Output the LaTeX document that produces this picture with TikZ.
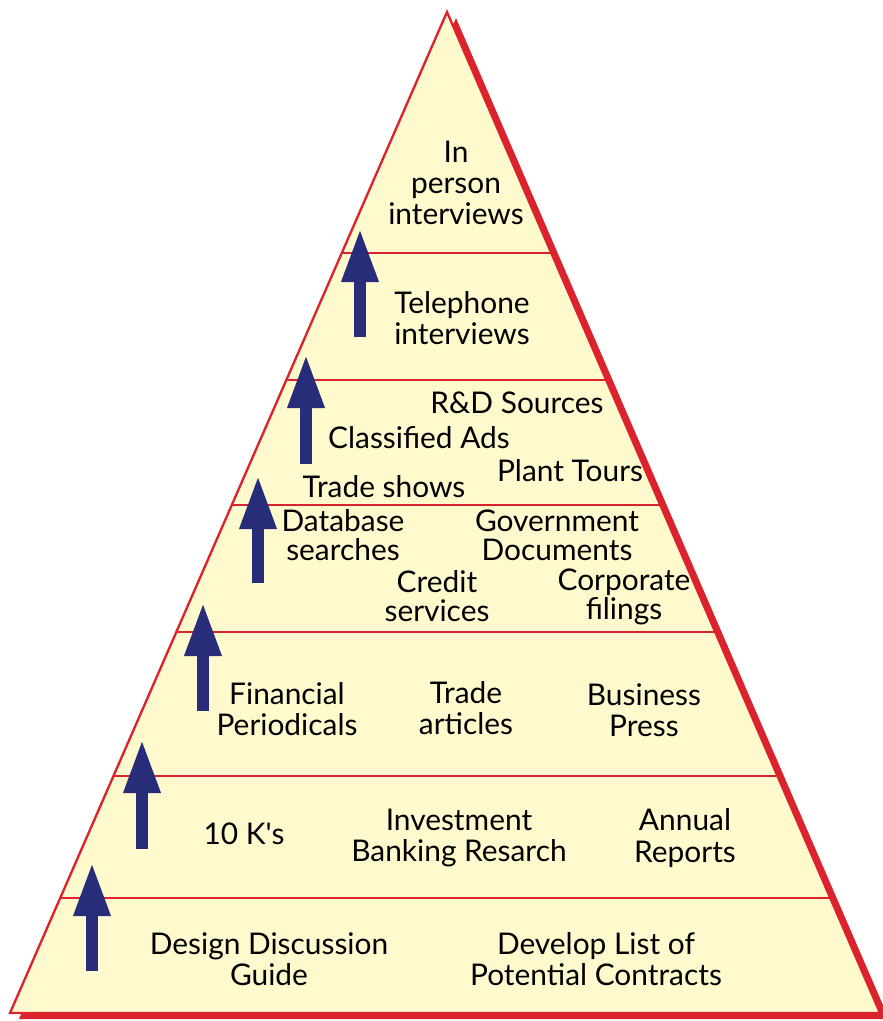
\documentclass[tikz,border=0pt]{standalone}
\usepackage{fontspec}
\setmainfont{Lato}[Ligatures=TeXOff]
\usetikzlibrary{arrows.meta}

\definecolor{pyrred}{RGB}{218,35,45}
\definecolor{pyrfill}{RGB}{255,250,206}
\definecolor{arrblue}{RGB}{40,45,122}

\tikzset{
  lbl/.style={align=center, font=\fontsize{25.5}{26.8}\selectfont, inner sep=0pt},
  tight/.style={font=\fontsize{25.5}{25}\selectfont},
  bandline/.style={pyrred, line width=0.6mm},
  uparrow/.style={arrblue, line width=3.6mm, -{Triangle[width=10.2mm, length=16.2mm]}}
}

\begin{document}
\begin{tikzpicture}[x=0.3mm, y=-0.3mm]
	\useasboundingbox (0,0) rectangle (883,1021) ;
	% corners of the pyramid
	\coordinate (top) at (447,12) ;
	\coordinate (bl) at (10,1013) ;
	\coordinate (br) at (880,1013) ;
	% red shadow, then the pyramid itself
	\fill[pyrred] ([shift={(9,6)}]top) -- ([shift={(9,6)}]bl) -- ([shift={(9,6)}]br) -- cycle ;
	\fill[pyrfill] (top) -- (bl) -- (br) -- cycle ;
	\begin{scope}
		\clip (top) -- (bl) -- (br) -- cycle ;
		\foreach \y in {253,380,505,632,776,898}
			\draw[bandline] (0,\y) -- (883,\y) ;
	\end{scope}
	\draw[pyrred, line width=0.7mm, line join=miter] (top) -- (bl) -- (br) -- cycle ;

	% arrows, bottom to top
	\foreach \n/\x/\yb/\yt in {1/92/971/862, 2/142/849/739, 3/203/711/602, 4/258/583/475, 5/306/464/354, 6/360/337/228} {
		\coordinate (a\n b) at (\x,\yb) ;
		\coordinate (a\n t) at (\x,\yt) ;
		\draw[uparrow] (a\n b) -- (a\n t) ;
	}

	% level 7
	\node[lbl] (l7) at (456,183) {In\\person\\interviews} ;
	% level 6
	\node[lbl] (l6) at (462,318) {Telephone\\interviews} ;
	% level 5
	\node[lbl] (rd) at (517,403) {R\&D Sources} ;
	\node[lbl] (ca) at (419,438) {Classified Ads} ;
	\node[lbl] (pt) at (570,471) {Plant Tours} ;
	\node[lbl] (ts) at (384,487) {Trade shows} ;
	% level 4
	\node[lbl,tight] (db) at (343,535) {Database\\searches} ;
	\node[lbl,tight] (gd) at (557,535) {Government\\Documents} ;
	\node[lbl,tight] (cs) at (437,596) {Credit\\services} ;
	\node[lbl,tight] (cf) at (624,597) {Corporate\\filings} ;
	% level 3
	\node[lbl] (fp) at (287,709) {Financial\\Periodicals} ;
	\node[lbl] (ta) at (466,708) {Trade\\articles} ;
	\node[lbl] (bp) at (644,710) {Business\\Press} ;
	% level 2
	\node[lbl] (tk) at (244,834) {10 K's} ;
	\node[lbl] (ib) at (459,838) {Investment\\Banking Resarch} ;
	\node[lbl] (ar) at (685,838) {Annual\\Reports} ;
	% level 1
	\node[lbl] (dd) at (269,959) {Design Discussion\\Guide} ;
	\node[lbl] (dl) at (596,959) {Develop List of\\Potential Contracts} ;
\end{tikzpicture}
\end{document}
